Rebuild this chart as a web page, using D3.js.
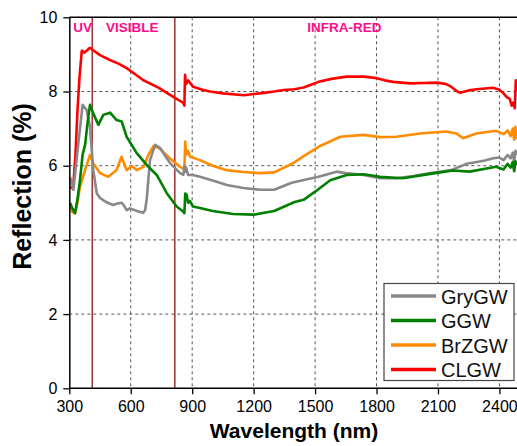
<!DOCTYPE html>
<html>
<head>
<meta charset="utf-8">
<script src="https://cdn.jsdelivr.net/npm/d3@7"></script>
<style>
  html, body { margin: 0; padding: 0; background: #fff; }
  svg { display: block; font-family: Arial, "Liberation Sans", sans-serif; }
</style>
</head>
<body>
<svg id="chart" width="517" height="446"></svg>
<script>
// ---- Data ----
const seriesNames = ["GryGW", "GGW", "BrZGW", "CLGW"];
const seriesColors = ["#888888", "#008000", "#ff8c00", "#ff0000"];

const gryWl = [303,320,344,365,385,401,417,434,450,480,513,535,556,570,580,596,630,661,670,678,694,719,743,770,792,841,857,862,866,870,880,904,938,1000,1069,1150,1231,1300,1386,1450,1517,1605,1650,1737,1818,1897,1980,2062,2164,2245,2290,2330,2369,2400,2420,2440,2455,2465,2472,2478,2486];
const gryVal = [5.7,5.35,6.6,7.64,7.5,7.05,5.88,5.26,5.13,5.02,4.94,4.98,5.0,4.9,4.8,4.85,4.78,4.73,4.8,5.1,6.15,6.56,6.48,6.25,6.07,5.8,5.75,6.0,5.84,5.95,5.75,5.75,5.7,5.6,5.48,5.4,5.35,5.35,5.54,5.62,5.7,5.84,5.8,5.75,5.66,5.66,5.72,5.8,5.88,6.06,6.1,6.14,6.2,6.22,6.15,6.29,6.2,6.35,6.1,6.4,6.29];

const ggwWl = [303,315,328,340,352,365,377,390,401,417,442,466,499,531,556,580,629,678,727,776,824,857,862,866,873,880,889,904,938,1000,1100,1200,1300,1400,1444,1500,1574,1654,1737,1818,1929,2062,2174,2255,2330,2384,2420,2440,2455,2465,2472,2478,2486];
const ggwVal = [5.0,4.85,4.72,5.1,5.6,6.3,6.56,7.2,7.64,7.41,7.1,7.37,7.43,7.23,7.19,6.78,6.34,6.02,5.75,5.26,4.9,4.76,4.72,5.25,5.21,5.0,5.05,4.9,4.86,4.78,4.7,4.68,4.78,5.02,5.08,5.3,5.61,5.75,5.77,5.7,5.66,5.78,5.87,5.84,5.92,5.97,5.9,6.05,5.95,6.1,5.85,6.12,6.02];

const brzWl = [303,315,328,340,352,377,401,417,450,490,530,555,580,605,630,662,686,711,740,790,840,857,862,866,870,880,890,938,1000,1069,1150,1231,1300,1390,1450,1517,1623,1737,1818,1897,2012,2140,2189,2223,2286,2384,2420,2440,2455,2465,2472,2478,2482,2486];
const brzVal = [4.88,4.75,4.72,5.0,5.43,5.88,6.29,6.06,5.8,5.7,5.88,6.24,5.88,5.99,5.88,5.97,6.29,6.53,6.47,6.2,5.97,5.92,5.9,6.65,6.3,6.4,6.24,6.15,6.0,5.88,5.83,5.8,5.82,6.06,6.28,6.51,6.78,6.83,6.77,6.78,6.87,6.92,6.87,6.74,6.87,6.94,6.85,6.95,6.8,7.0,6.7,7.05,6.75,6.9];

const clgWl = [303,310,320,330,340,350,361,375,401,420,450,498,540,580,620,660,700,740,780,806,840,857,862,865,870,880,904,950,987,1050,1153,1230,1300,1347,1400,1444,1480,1517,1580,1654,1737,1801,1840,1881,1964,2030,2094,2140,2164,2200,2213,2250,2289,2330,2369,2400,2420,2436,2450,2460,2467,2475,2480,2486];
const clgVal = [5.43,5.4,5.5,6.3,7.5,8.4,9.1,9.05,9.18,9.1,8.98,8.85,8.75,8.63,8.47,8.31,8.2,8.09,7.95,7.86,7.75,7.69,7.62,8.45,8.2,8.3,8.13,8.05,8.0,7.95,7.9,7.95,8.0,8.04,8.06,8.11,8.18,8.26,8.34,8.4,8.4,8.36,8.3,8.26,8.22,8.23,8.24,8.2,8.13,7.98,7.97,8.03,8.06,8.08,8.1,8.05,7.95,7.85,7.8,7.62,7.7,7.55,8.3,8.0];

const regionLines = [412, 815];
const regionLabels = ["UV", "VISIBLE", "INFRA-RED"];
const regionLabelWl = [319, 479, 1462];

const xTicks = [300,600,900,1200,1500,1800,2100,2400];
const yTicks = [0,2,4,6,8,10];

// ---- Layout ----
const svg = d3.select("#chart");
const pL = 69.3, pR = 519.9, pT = 17.3, pB = 388.3;
const x = d3.scaleLinear().domain([300, 2500]).range([pL, pR]);
const y = d3.scaleLinear().domain([0, 10]).range([pB, pT]);

svg.append("defs").append("clipPath").attr("id", "clip")
  .append("rect").attr("x", pL).attr("y", pT).attr("width", pR - pL).attr("height", pB - pT);

// grid
const grid = svg.append("g");
grid.selectAll(".vg").data(xTicks.filter(d => d > 300)).join("line")
  .attr("x1", d => x(d)).attr("x2", d => x(d)).attr("y1", pT).attr("y2", pB)
  .attr("stroke", "#555").attr("stroke-width", 1).attr("stroke-dasharray", "3,3");
grid.selectAll(".hg").data(yTicks.filter(d => d > 0 && d < 10)).join("line")
  .attr("x1", pL).attr("x2", 517).attr("y1", d => y(d)).attr("y2", d => y(d))
  .attr("stroke", "#555").attr("stroke-width", 1).attr("stroke-dasharray", "3,3");

// region lines
svg.append("g").selectAll("line").data(regionLines).join("line")
  .attr("x1", d => x(d)).attr("x2", d => x(d)).attr("y1", pT).attr("y2", pB)
  .attr("stroke", "#a03c3c").attr("stroke-width", 1.6);

// series
const series = [
  {wl: gryWl, v: gryVal},
  {wl: ggwWl, v: ggwVal},
  {wl: brzWl, v: brzVal},
  {wl: clgWl, v: clgVal}
];
const line = d3.line().x(d => x(d[0])).y(d => y(d[1]));
const plot = svg.append("g").attr("clip-path", "url(#clip)");
const order = [3, 2, 0, 1];
order.forEach(i => {
  const s = series[i];
  plot.append("path")
    .datum(s.wl.map((w, k) => [w, s.v[k]]))
    .attr("d", line)
    .attr("fill", "none")
    .attr("stroke", seriesColors[i])
    .attr("stroke-width", 2.6)
    .attr("stroke-linejoin", "round");
});

// region labels
svg.append("g").selectAll("text").data(regionLabels).join("text")
  .attr("x", (d, i) => x(regionLabelWl[i])).attr("y", y(9.6))
  .attr("fill", "#ff0a8a").attr("font-weight", "bold").attr("font-size", "13.5px")
  .text(d => d);

// frame
svg.append("line").attr("x1", pL).attr("x2", 517).attr("y1", pT).attr("y2", pT)
  .attr("stroke", "#000").attr("stroke-width", 1.5);

// axes
const xAxis = svg.append("g").attr("transform", `translate(0,${pB})`)
  .call(d3.axisBottom(x).tickValues(xTicks).tickFormat(d3.format("d")).tickSizeInner(6).tickSizeOuter(0).tickPadding(6));
xAxis.select(".domain").attr("stroke-width", 1.5).attr("d", `M${pL},0H517`);
xAxis.selectAll("text").attr("font-size", "16px").attr("font-family", "Arial, 'Liberation Sans', sans-serif").attr("fill", "#000");
xAxis.selectAll(".tick line").attr("stroke-width", 1.3);

const yAxis = svg.append("g").attr("transform", `translate(${pL},0)`)
  .call(d3.axisLeft(y).tickValues(yTicks).tickFormat(d3.format("d")).tickSizeInner(6).tickSizeOuter(0).tickPadding(6));
yAxis.select(".domain").attr("stroke-width", 1.5);
yAxis.selectAll("text").attr("font-size", "16px").attr("font-family", "Arial, 'Liberation Sans', sans-serif").attr("fill", "#000");
yAxis.selectAll(".tick line").attr("stroke-width", 1.3);

// titles
svg.append("text").attr("x", 294).attr("y", 438).attr("text-anchor", "middle")
  .attr("font-weight", "bold").attr("font-size", "21px").text("Wavelength (nm)");
svg.append("text").attr("transform", `translate(31,186.5) rotate(-90)`).attr("text-anchor", "middle")
  .attr("font-weight", "bold").attr("font-size", "25px").text("Reflection (%)");

// legend
const lg = svg.append("g");
lg.append("rect").attr("x", 384).attr("y", 283.5).attr("width", 130).attr("height", 97)
  .attr("fill", "#fff").attr("stroke", "#444").attr("stroke-width", 1.2);
seriesNames.forEach((n, i) => {
  const cy = 296 + i * 24.5;
  lg.append("line").attr("x1", 391).attr("x2", 436).attr("y1", cy).attr("y2", cy)
    .attr("stroke", seriesColors[i]).attr("stroke-width", 3.5);
  lg.append("text").attr("x", 441).attr("y", cy + 7.5).attr("font-size", "20px").attr("fill", "#111").text(n);
});
</script>
</body>
</html>
